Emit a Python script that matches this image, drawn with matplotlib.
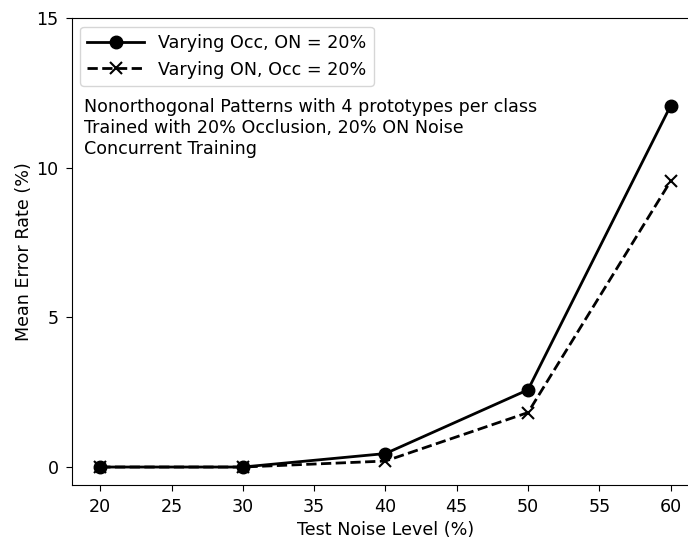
import matplotlib
matplotlib.use("Agg")
import matplotlib.pyplot as plt

noise_levels = [20, 30, 40, 50, 60]
err_vary_occ = [0.0, 0.0, 0.45, 2.58, 12.07]
err_vary_on = [0.0, 0.0, 0.20, 1.82, 9.55]

label_occ = "Varying Occ, ON = 20%"
label_on = "Varying ON, Occ = 20%"
info_text = ("Nonorthogonal Patterns with 4 prototypes per class\n"
             "Trained with 20% Occlusion, 20% ON Noise\n"
             "Concurrent Training")

plt.rcParams['font.size'] = 12.6
plt.rcParams['xtick.major.size'] = 4.3
plt.rcParams['ytick.major.size'] = 4.3
plt.rcParams['xtick.major.pad'] = 5
plt.rcParams['ytick.major.pad'] = 5

fig = plt.figure(figsize=(6.88, 5.39), dpi=100)
ax = fig.add_axes([0.1042, 0.1002, 0.912, 0.8664])

ax.plot(noise_levels, err_vary_occ, color='black', linestyle='-', linewidth=2,
        marker='o', markersize=9, label=label_occ)
ax.plot(noise_levels, err_vary_on, color='black', linestyle='--', linewidth=2,
        marker='x', markersize=9, markeredgewidth=1.5, label=label_on)

ax.set_xlim(18, 62)
ax.set_ylim(-0.6, 15)
ax.set_yticks([0, 5, 10, 15])
ax.set_xlabel("Test Noise Level (%)", labelpad=3.5)
ax.set_ylabel("Mean Error Rate (%)", labelpad=2.5)
ax.legend(loc='upper left', handlelength=3.25)
ax.text(0.02, 0.828, info_text, transform=ax.transAxes, va='top', ha='left')

fig.savefig("out.png", dpi=100)
